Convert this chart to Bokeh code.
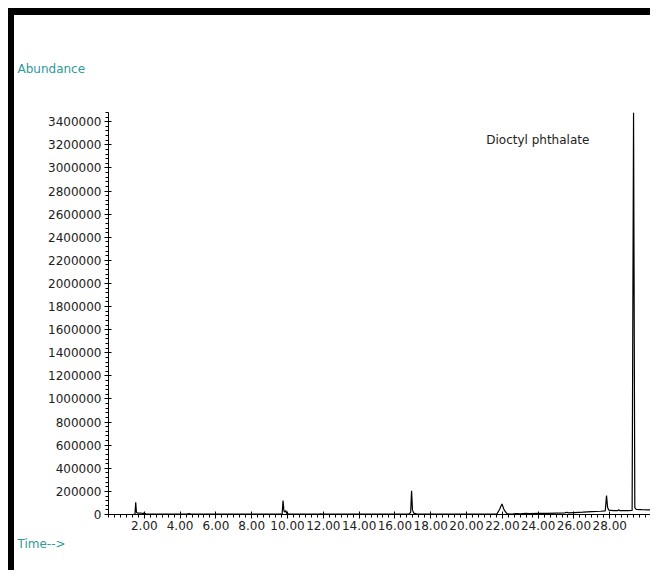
import numpy as np
from bokeh.plotting import figure
from bokeh.models import (Range1d, FixedTicker, SingleIntervalTicker, PrintfTickFormatter,
                          BasicTickFormatter, Label, Title)
from bokeh.embed import file_html
from bokeh.resources import INLINE

# ---- data ----
time_min = [1.40, 1.48, 1.52, 1.56, 1.62, 1.80, 1.90, 2.00, 2.10, 3.00, 4.40, 4.50, 4.60,
            6.00, 8.00, 9.60, 9.70, 9.75, 9.80, 9.86, 9.90, 9.96, 10.10, 11.00, 11.80,
            11.85, 11.90, 14.00, 16.80, 16.88, 16.93, 16.98, 17.05, 17.20, 18.50, 20.00,
            21.70, 21.85, 21.98, 22.10, 22.25, 22.40, 22.60, 22.80, 23.00, 23.30, 23.50,
            24.00, 24.50, 25.00, 25.50, 25.60, 25.70, 26.00, 26.50, 27.00, 27.50, 27.75,
            27.82, 27.88, 27.95, 28.20, 28.45, 28.50, 28.55, 29.00, 29.25, 29.33, 29.40,
            29.48, 29.80, 30.20, 30.50]
abundance = [2000, 3000, 105000, 20000, 12000, 13000, 9000, 12000, 4000, 3000, 3000, 8000, 3000,
             2500, 2500, 3000, 5000, 120000, 30000, 22000, 35000, 8000, 4000, 3000, 3000,
             6000, 3000, 3000, 3000, 20000, 205000, 40000, 12000, 5000, 4000, 4000,
             5000, 45000, 92000, 40000, 8000, 4000, 5000, 8000, 6000, 9000, 7000,
             9000, 10000, 12000, 14000, 20000, 14000, 17000, 20000, 25000, 28000, 32000,
             165000, 60000, 38000, 33000, 34000, 42000, 34000, 33000, 35000, 3480000, 60000,
             45000, 42000, 40000, 40000]
x_tick_values = [2, 4, 6, 8, 10, 12, 14, 16, 18, 20, 22, 24, 26, 28]
peak_label = "Dioctyl phthalate"
peak_label_pos = (21.1, 3244000)
y_title = "Abundance"
x_title = "Time-->"

FONT = "DejaVu Sans"
TEAL = "#2e9a9a"
TXT = "#222222"

p = figure(width=642, height=562, output_backend="svg", toolbar_location=None,
           x_range=Range1d(0, 30.5), y_range=Range1d(0, 3480000),
           min_border_left=94, min_border_top=97, min_border_bottom=63, min_border_right=2)
p.styles = {"border-top": "7px solid black", "border-left": "6px solid black",
            "margin-top": "8px", "margin-left": "8px"}
p.outline_line_color = None
p.xgrid.visible = False
p.ygrid.visible = False
p.background_fill_color = "white"
p.border_fill_color = "white"

p.line(time_min, abundance, line_color="black", line_width=1.2)

minor_x = [float(v) for v in np.arange(0, 30.51, 1/3)]
p.xaxis.ticker = FixedTicker(ticks=x_tick_values, minor_ticks=minor_x)
p.xaxis.formatter = PrintfTickFormatter(format="%.2f")
p.yaxis.ticker = SingleIntervalTicker(interval=200000, num_minor_ticks=5)
p.yaxis.formatter = BasicTickFormatter(use_scientific=False)

for ax in (p.xaxis, p.yaxis):
    ax.axis_line_color = "black"
    ax.major_tick_line_color = "black"
    ax.minor_tick_line_color = "black"
    ax.major_label_text_font = FONT
    ax.major_label_text_font_size = "12px"
    ax.major_label_text_color = TXT
    ax.major_tick_in = 3
    ax.major_tick_out = 4
    ax.minor_tick_in = 0
    ax.minor_tick_out = 3
p.xaxis.major_label_standoff = 2
p.yaxis.major_label_standoff = 3

p.add_layout(Label(x=peak_label_pos[0], y=peak_label_pos[1], text=peak_label,
                   text_font=FONT, text_font_size="12px", text_color=TXT,
                   text_baseline="middle", text_align="left"))

p.title.text = y_title
p.title.align = "left"
p.title.offset = -91
p.title.standoff = 73
p.title.text_font = FONT
p.title.text_font_size = "12px"
p.title.text_font_style = "normal"
p.title.text_color = TEAL

p.add_layout(Title(text=x_title, align="left", offset=-91, standoff=5,
                   text_font=FONT, text_font_size="12px", text_font_style="normal",
                   text_color=TEAL), "below")

open("out.html", "w").write(file_html(p, INLINE))
